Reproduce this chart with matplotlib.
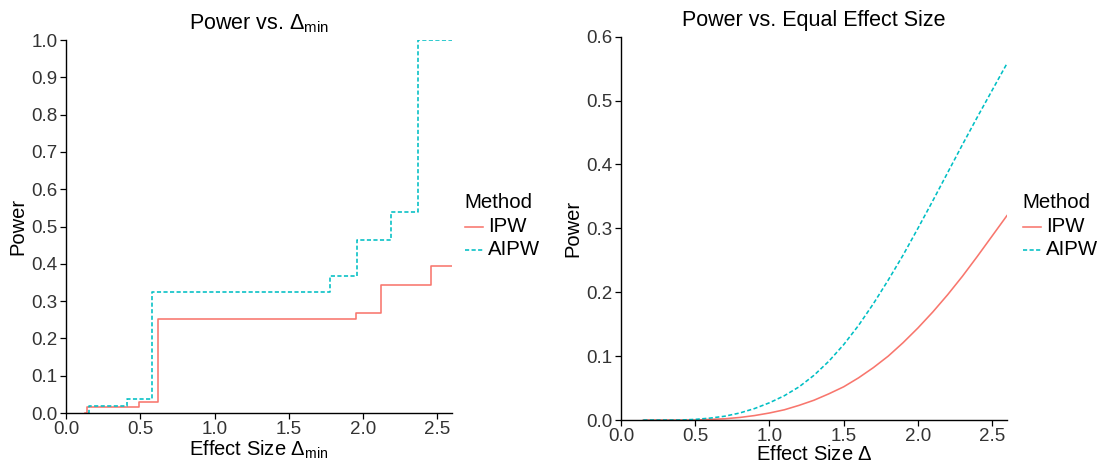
import matplotlib
matplotlib.use("Agg")
import matplotlib.pyplot as plt
from matplotlib.lines import Line2D
import numpy as np

plt.rcParams['font.family'] = ['Liberation Sans', 'DejaVu Sans']
plt.rcParams['mathtext.fontset'] = 'custom'
plt.rcParams['mathtext.rm'] = 'Liberation Sans'
plt.rcParams['mathtext.it'] = 'Liberation Sans:italic'

methods = ['IPW', 'AIPW']

# left panel: step curves, power vs delta_min
ipw_step_x = [0.13, 0.14, 0.49, 0.617, 1.955, 2.12, 2.46, 2.6]
ipw_step_y = [0.0, 0.015, 0.029, 0.252, 0.267, 0.342, 0.393, 0.393]
aipw_step_x = [0.15, 0.157, 0.41, 0.576, 1.775, 1.96, 2.186, 2.37, 2.6]
aipw_step_y = [0.0, 0.0196, 0.0375, 0.324, 0.368, 0.463, 0.540, 1.0, 1.0]

# right panel: smooth curves, power vs equal effect size
delta = [0.15, 0.3, 0.4, 0.5, 0.6, 0.7, 0.8, 0.9, 1.0, 1.1, 1.2, 1.3, 1.4,
         1.5, 1.6, 1.7, 1.8, 1.9, 2.0, 2.1, 2.2, 2.3, 2.4, 2.5, 2.6]
ipw_power = [0.0, 0.0, 0.0, 0.0, 0.001, 0.002, 0.004, 0.007, 0.011, 0.016,
             0.023, 0.031, 0.041, 0.052, 0.066, 0.082, 0.100, 0.121, 0.144,
             0.169, 0.196, 0.225, 0.256, 0.288, 0.320]
aipw_power = [0.0, 0.0, 0.0, 0.001, 0.003, 0.006, 0.011, 0.018, 0.027, 0.038,
              0.052, 0.070, 0.092, 0.118, 0.148, 0.182, 0.219, 0.258, 0.300,
              0.343, 0.387, 0.431, 0.474, 0.516, 0.558]

colors = ['#F8766D', '#00BFC4']
styles = ['-', (0, (2.6, 1.5))]

W, H = 1108, 467
fig = plt.figure(figsize=(W / 100, H / 100), dpi=100)
ax1 = fig.add_axes([0.0596, 0.1156, 0.3484, 0.7987])
ax2 = fig.add_axes([0.5605, 0.1006, 0.3483, 0.8208])


def style_axis(ax):
    for s in ['top', 'right']:
        ax.spines[s].set_visible(False)
    for s in ['left', 'bottom']:
        ax.spines[s].set_linewidth(1.0)
        ax.spines[s].set_color('black')
    ax.tick_params(direction='out', length=4, width=0.9, colors='black',
                   labelsize=13.5, labelcolor='#333333', pad=2)


def add_legend(x0):
    # ggplot-style legend placed right of the panel (pixel positions)
    fs = 14.7
    fig.text(x0 / W, 1 - 203 / H, 'Method', fontsize=fs, ha='left', va='center')
    for i, name in enumerate(methods):
        yy = 1 - (226.5 + 23 * i) / H
        fig.add_artist(Line2D([(x0 + 1) / W, (x0 + 19) / W], [yy, yy],
                              color=colors[i], lw=1.15, linestyle=styles[i]))
        fig.text((x0 + 24) / W, yy, name, fontsize=fs, ha='left', va='center')


ax1.plot(ipw_step_x, ipw_step_y, drawstyle='steps-post', color=colors[0], lw=1.15,
         linestyle=styles[0], label=methods[0])
ax1.plot(aipw_step_x, aipw_step_y, drawstyle='steps-post', color=colors[1], lw=1.15,
         linestyle=styles[1], label=methods[1])
ax1.set_xlim(0, 2.6)
ax1.set_ylim(0, 1.0)
ax1.set_xticks(np.arange(0, 2.51, 0.5))
ax1.set_yticks(np.arange(0, 1.01, 0.1))
ax1.xaxis.set_major_formatter(matplotlib.ticker.FormatStrFormatter('%.1f'))
ax1.yaxis.set_major_formatter(matplotlib.ticker.FormatStrFormatter('%.1f'))
style_axis(ax1)
ax1.set_title(r'Power vs. $\mathregular{\Delta_{min}}$', fontsize=15.5, pad=8)
ax1.set_xlabel(r'Effect Size $\mathregular{\Delta_{min}}$', fontsize=14.5, labelpad=0)
ax1.set_ylabel('Power', fontsize=14.5, labelpad=3)
add_legend(464)

ax2.plot(delta, ipw_power, color=colors[0], lw=1.15, linestyle=styles[0], label=methods[0])
ax2.plot(delta, aipw_power, color=colors[1], lw=1.15, linestyle=styles[1], label=methods[1])
ax2.set_xlim(0, 2.6)
ax2.set_ylim(0, 0.6)
ax2.set_xticks(np.arange(0, 2.51, 0.5))
ax2.set_yticks(np.arange(0, 0.61, 0.1))
ax2.xaxis.set_major_formatter(matplotlib.ticker.FormatStrFormatter('%.1f'))
ax2.yaxis.set_major_formatter(matplotlib.ticker.FormatStrFormatter('%.1f'))
style_axis(ax2)
ax2.set_title('Power vs. Equal Effect Size', fontsize=15.5, pad=8)
ax2.set_xlabel(r'Effect Size $\mathregular{\Delta}$', fontsize=14.5, labelpad=0)
ax2.set_ylabel('Power', fontsize=14.5, labelpad=3)
add_legend(1022)

fig.savefig('out.png', dpi=100)
